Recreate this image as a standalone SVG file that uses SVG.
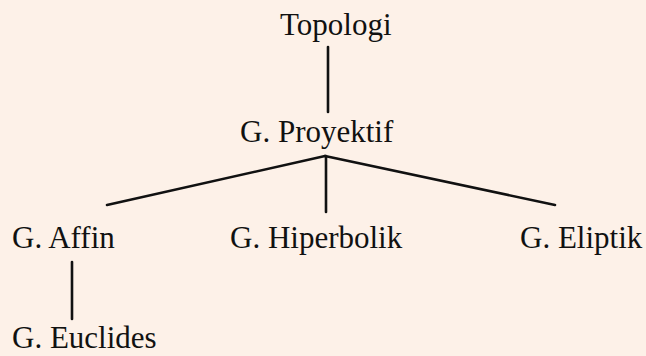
<svg xmlns="http://www.w3.org/2000/svg" width="646" height="356" viewBox="0 0 646 356">
<style>
.t{font-family:"Liberation Serif","Times New Roman",serif;font-size:31px;fill:#111}
.c line{stroke:#111;stroke-width:2.6;stroke-linecap:round}
</style>
<rect width="646" height="356" fill="#fdf1e8"/>
<g class="c" id="connectors">
<line x1="328" y1="47" x2="328" y2="112"/>
<line x1="325" y1="156" x2="107" y2="205"/>
<line x1="325" y1="156" x2="555" y2="205"/>
<line x1="326" y1="156" x2="326" y2="212"/>
<line x1="72" y1="262" x2="72" y2="319"/>
</g>
<g id="topologi"><text class="t" x="280" y="35">Topologi</text></g>
<g id="proyektif"><text class="t" x="240" y="142">G. Proyektif</text></g>
<g id="affin"><text class="t" x="12" y="248">G. Affin</text></g>
<g id="hiperbolik"><text class="t" x="230" y="248">G. Hiperbolik</text></g>
<g id="eliptik"><text class="t" x="520" y="248">G. Eliptik</text></g>
<g id="euclides"><text class="t" x="12" y="348">G. Euclides</text></g>
</svg>
